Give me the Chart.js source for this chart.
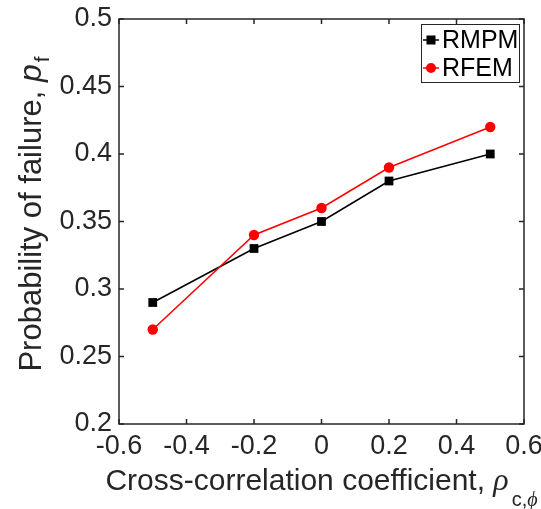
<!DOCTYPE html>
<html>
<head>
<meta charset="utf-8">
<script src="https://cdn.jsdelivr.net/npm/chart.js@4.4.0/dist/chart.umd.min.js"></script>
<style>
  html, body { margin: 0; padding: 0; background: #ffffff; }
  #wrap { width: 541px; height: 509px; }
</style>
</head>
<body>
<div id="wrap"><canvas id="chart" width="541" height="509"></canvas></div>
<script>
var coefficients = [-0.5, -0.2, 0, 0.2, 0.5];
var rmpmValues = [0.29, 0.33, 0.35, 0.38, 0.40];
var rfemValues = [0.27, 0.34, 0.36, 0.39, 0.42];
var xTicks = [-0.6, -0.4, -0.2, 0, 0.2, 0.4, 0.6];
var yTicks = [0.2, 0.25, 0.3, 0.35, 0.4, 0.45, 0.5];
var seriesNames = ['RMPM', 'RFEM'];

var axisColor = '#262626';
var sans = '"Liberation Sans", Arial, sans-serif';

function toPoints(xs, ys) {
    return xs.map((x, i) => ({ x: x, y: ys[i] }));
}

// box, inward ticks, axis titles and legend
var framePlugin = {
    id: 'frame',
    beforeDraw: function (chart) {
        var ctx = chart.ctx;
        ctx.save();
        ctx.fillStyle = '#ffffff';
        ctx.fillRect(0, 0, chart.width, chart.height);
        ctx.restore();
    },
    afterDatasetsDraw: function (chart) {
        var ctx = chart.ctx;
        var a = chart.chartArea;
        var xs = chart.scales.x, ys = chart.scales.y;
        var tl = 5;
        ctx.save();
        ctx.strokeStyle = axisColor;
        ctx.lineWidth = 1.5;
        ctx.strokeRect(a.left, a.top, a.right - a.left, a.bottom - a.top);
        ctx.beginPath();
        xTicks.forEach(function (v) {
            var px = xs.getPixelForValue(v);
            ctx.moveTo(px, a.bottom); ctx.lineTo(px, a.bottom - tl);
            ctx.moveTo(px, a.top); ctx.lineTo(px, a.top + tl);
        });
        yTicks.forEach(function (v) {
            var py = ys.getPixelForValue(v);
            ctx.moveTo(a.left, py); ctx.lineTo(a.left + tl, py);
            ctx.moveTo(a.right, py); ctx.lineTo(a.right - tl, py);
        });
        ctx.stroke();

        // x title
        ctx.fillStyle = axisColor;
        ctx.textBaseline = 'alphabetic';
        var main = 'Cross-correlation coefficient, ';
        var fMain = '30px ' + sans;
        var fRho = 'italic 32px "Liberation Serif", serif';
        var fSubC = '20px ' + sans;
        var fSubPhi = 'italic 20px "Liberation Serif", serif';
        ctx.font = fMain; var w1 = ctx.measureText(main).width;
        ctx.font = fRho; var w2 = ctx.measureText('\u03c1').width;
        ctx.font = fSubC; var w3 = ctx.measureText('c,').width;
        ctx.font = fSubPhi; var w4 = ctx.measureText('\u03d5').width;
        var cx = (a.left + a.right) / 2;
        var x0 = cx - (w1 + w2 + 3 + w3 + w4) / 2;
        var base = 490;
        ctx.textAlign = 'left';
        ctx.font = fMain; ctx.fillText(main, x0, base);
        ctx.font = fRho; ctx.fillText('\u03c1', x0 + w1, base);
        ctx.font = fSubC; ctx.fillText('c,', x0 + w1 + w2 + 3, base + 16);
        ctx.font = fSubPhi; ctx.fillText('\u03d5', x0 + w1 + w2 + 3 + w3, base + 16);

        // y title
        var ymain = 'Probability of failure, ';
        var fYMain = '31px ' + sans;
        var fP = 'italic 32px ' + sans;
        var fSubF = '21px ' + sans;
        ctx.font = fYMain; var v1 = ctx.measureText(ymain).width;
        ctx.font = fP; var v2 = ctx.measureText('p').width;
        ctx.font = fSubF; var v3 = ctx.measureText('f').width;
        ctx.save();
        ctx.translate(41, 214);
        ctx.rotate(-Math.PI / 2);
        var s0 = -(v1 + v2 + 2 + v3) / 2;
        ctx.font = fYMain; ctx.fillText(ymain, s0, 0);
        ctx.font = fP; ctx.fillText('p', s0 + v1, 0);
        ctx.font = fSubF; ctx.fillText('f', s0 + v1 + v2 + 2, 8);
        ctx.restore();

        // legend
        var lx = 421, ly = 24, lw = 98, lh = 58;
        ctx.fillStyle = '#ffffff';
        ctx.fillRect(lx, ly, lw, lh);
        ctx.strokeStyle = axisColor;
        ctx.lineWidth = 1;
        ctx.strokeRect(lx + 0.5, ly + 0.5, lw, lh);
        var rows = [40, 68];
        chart.data.datasets.forEach(function (ds, i) {
            var yy = rows[i];
            ctx.strokeStyle = ds.borderColor;
            ctx.lineWidth = 1.5;
            ctx.beginPath();
            ctx.moveTo(423, yy); ctx.lineTo(439, yy);
            ctx.stroke();
            ctx.fillStyle = ds.pointBackgroundColor;
            if (ds.pointStyle === 'rect') {
                ctx.fillRect(431 - 4.5, yy - 4.5, 9, 9);
            } else {
                ctx.beginPath();
                ctx.arc(431, yy, 5, 0, Math.PI * 2);
                ctx.fill();
            }
            ctx.fillStyle = '#000000';
            ctx.font = '25px ' + sans;
            ctx.textBaseline = 'middle';
            ctx.fillText(ds.label, 442, yy + 1);
        });
        ctx.restore();
    }
};

new Chart(
    document.getElementById('chart'),
    {
        type: 'scatter',
        data: {
            datasets: [
                {
                    label: seriesNames[0],
                    data: toPoints(coefficients, rmpmValues),
                    showLine: true,
                    borderColor: '#000000',
                    backgroundColor: '#000000',
                    pointBackgroundColor: '#000000',
                    pointBorderWidth: 0,
                    borderWidth: 1.5,
                    pointStyle: 'rect',
                    pointRadius: 6.2,
                    order: 2
                },
                {
                    label: seriesNames[1],
                    data: toPoints(coefficients, rfemValues),
                    showLine: true,
                    borderColor: '#ff0000',
                    backgroundColor: '#ff0000',
                    pointBackgroundColor: '#ff0000',
                    pointBorderWidth: 0,
                    borderWidth: 1.5,
                    pointStyle: 'circle',
                    pointRadius: 5.2,
                    order: 1
                }
            ]
        },
        options: {
            responsive: false,
            animation: false,
            layout: { padding: { top: 19, right: 17, left: 0, bottom: 0 } },
            plugins: {
                legend: { display: false },
                tooltip: { enabled: false }
            },
            scales: {
                x: {
                    type: 'linear',
                    min: -0.6,
                    max: 0.6,
                    afterBuildTicks: function (scale) { scale.ticks = xTicks.map(v => ({ value: v })); },
                    afterFit: function (scale) {
                        scale.height = 85;
                        scale.paddingLeft = 0;
                        scale.paddingRight = 0;
                    },
                    grid: { display: false, drawTicks: false },
                    border: { display: false },
                    ticks: {
                        color: axisColor,
                        font: { family: sans, size: 27 },
                        padding: 6,
                        maxRotation: 0,
                        callback: function (v) { return String(Math.round(v * 10) / 10); }
                    }
                },
                y: {
                    type: 'linear',
                    min: 0.2,
                    max: 0.5,
                    afterBuildTicks: function (scale) { scale.ticks = yTicks.map(v => ({ value: v })); },
                    afterFit: function (scale) {
                        scale.width = 119;
                        scale.paddingTop = 0;
                        scale.paddingBottom = 0;
                    },
                    grid: { display: false, drawTicks: false },
                    border: { display: false },
                    ticks: {
                        color: axisColor,
                        font: { family: sans, size: 27 },
                        padding: 7,
                        callback: function (v) { return String(Math.round(v * 100) / 100); }
                    }
                }
            }
        },
        plugins: [framePlugin]
    }
);
</script>
</body>
</html>
